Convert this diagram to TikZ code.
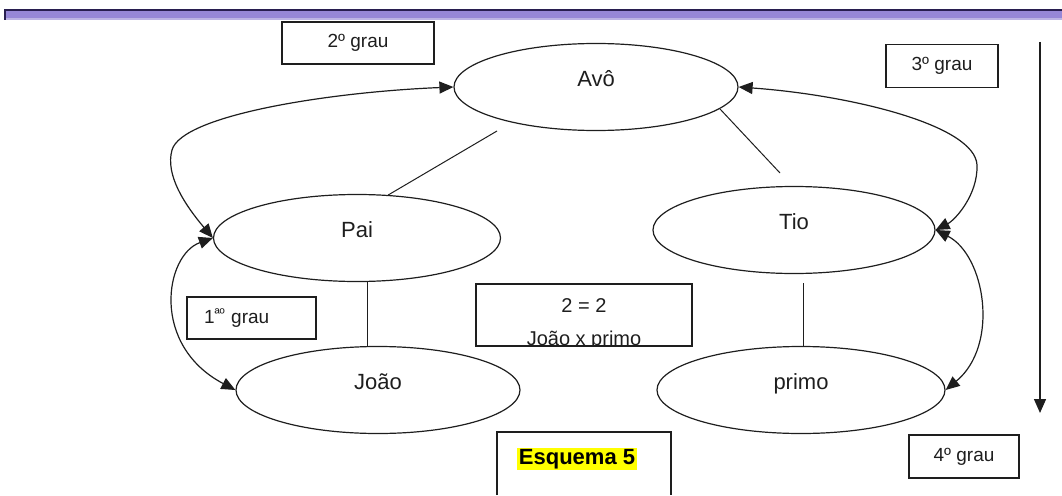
\documentclass[tikz,border=0pt]{standalone}
\usepackage{fontspec}
\setmainfont{Liberation Sans}
\usetikzlibrary{shapes.geometric,arrows.meta}
\definecolor{bandnavy}{RGB}{40,30,80}
\definecolor{bandlav}{RGB}{150,135,215}
\definecolor{bandlight}{RGB}{188,180,228}
\definecolor{ink}{RGB}{30,30,30}
\definecolor{hl}{RGB}{255,255,0}
\begin{document}
\begin{tikzpicture}[x=1pt,y=-1pt,
  person/.style={draw=ink,ellipse,line width=1.2pt,inner sep=0pt,
    minimum width=284pt,minimum height=87pt,text=ink,
    text height=16pt,text depth=18pt,
    font=\fontsize{22}{26}\selectfont},
  gradebox/.style={draw=ink,rectangle,line width=1.1pt,inner sep=0pt,
    minimum height=42pt,text=ink,font=\fontsize{19}{22}\selectfont},
  link/.style={draw=ink,line width=1pt},
  kintip/.tip={Triangle[length=14pt,width=12pt]},
  both/.style={draw=ink,line width=1.2pt,{kintip}-{kintip}}
]
\useasboundingbox (0,0) rectangle (1062,495);

% header band
\fill[bandlav] (4,10) rectangle (1062,18);
\fill[bandlight] (4,18) rectangle (1062,20);
\draw[bandnavy,line width=2pt] (4,10) -- (1062,10);
\draw[bandnavy,line width=1.5pt] (4.75,10) -- (4.75,20);

% family members
\node[person] (avo)   at (596,87)  {Avô};
\node[person,minimum width=287pt] (pai) at (357,238) {Pai};
\node[person,minimum width=282pt] (tio) at (794,230) {Tio};
\node[person] (joao)  at (378,390) {João};
\node[person,minimum width=288pt] (primo) at (801,390) {primo};

% degree labels
\node[gradebox,minimum width=152pt] (g2) at (358,43) {2º grau};
\node[gradebox,minimum width=112pt,minimum height=43pt] (g3) at (942,66) {3º grau};
\node[gradebox,minimum width=129pt,text width=95pt,align=left] (g1) at (251.5,318)
  {1\raisebox{5pt}{\fontsize{14}{14}\selectfont ªº} grau};
\node[gradebox,minimum width=110pt,minimum height=43pt] (g4) at (964,456.5) {4º grau};

% comparison box, its last line cut by the lower edge
\node[draw=ink,line width=1.1pt,minimum width=216pt,minimum height=62pt,inner sep=0pt]
  (cmp) at (584,315) {};
\begin{scope}
  \clip (cmp.south west) rectangle (cmp.north east);
  \node[text=ink,font=\fontsize{20}{24}\selectfont,anchor=base] (cmp1) at (584,312) {2 = 2};
  \node[text=ink,font=\fontsize{20}{24}\selectfont,anchor=base] (cmp2) at (584,345.5) {João x primo};
\end{scope}
\draw[ink,line width=1.1pt] (cmp.south west) -- (cmp.south east);

% caption box, open at the bottom
\coordinate (capL) at (497,495);
\coordinate (capR) at (671,495);
\draw[ink,line width=1.1pt] (capL) -- (497,432) -- (671,432) -- (capR);
\node[fill=hl,inner xsep=2pt,inner ysep=1.5pt,text=black,
  font=\fontsize{22}{26}\selectfont\bfseries] (cap) at (577,459) {Esquema 5};

% kinship lines
\coordinate (ap) at (497,131);
\coordinate (at) at (780,173);
\coordinate (pj) at (367,0);
\coordinate (tp) at (803,283);
\draw[link] (ap) -- (pai.54);
\draw[link] (avo.-10.7) -- (at);
\draw[link] (pai.south -| pj) -- (joao.north -| pj);
\draw[link] (tp) -- (primo.north -| tp);

% degree arrows
\draw[both] (pai.west) .. controls (185,205) and (165,175) .. (172,150)
  .. controls (182,115) and (330,92) .. (avo.west);
\draw[both] (pai.west) .. controls (165,255) and (150,345) .. (joao.west);
\draw[both] (avo.east) .. controls (850,95) and (975,125) .. (977,165)
  .. controls (978,195) and (955,220) .. (tio.east);
\draw[both] (tio.east) .. controls (985,255) and (1000,345) .. (primo.east);

% direction of counting
\coordinate (down0) at (1040,42);
\coordinate (down1) at (1040,413);
\draw[ink,line width=1.4pt,-{kintip}] (down0) -- (down1);
\end{tikzpicture}
\end{document}
